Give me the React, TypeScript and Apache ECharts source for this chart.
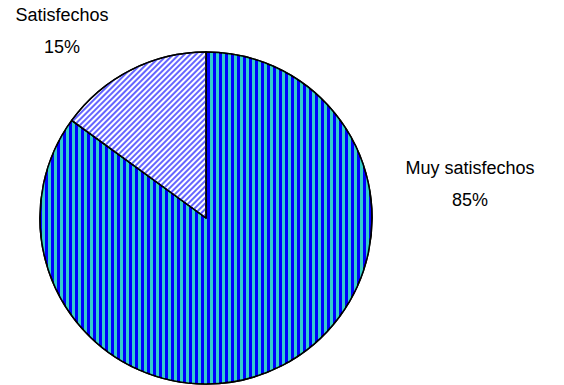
import React, { useEffect, useRef } from "react";
import * as echarts from "echarts";

const categories = ["Muy satisfechos", "Satisfechos"];
const values = [85, 15];
const percentLabels = ["85%", "15%"];

export default function App() {
  const ref = useRef<HTMLDivElement>(null);
  useEffect(() => {
    if (!ref.current) return;
    const chart = echarts.init(ref.current, undefined, { renderer: "svg" });
    const labelPos = [
      { x: 470, y: 184 },
      { x: 62, y: 31 },
    ];
    chart.setOption({
      animation: false,
      backgroundColor: "#ffffff",
      series: [
        {
          type: "pie",
          center: [206, 218],
          radius: 166,
          startAngle: 90,
          clockwise: true,
          data: categories.map((c, i) => ({
            name: c,
            value: values[i],
            itemStyle:
              i === 0
                ? {
                    color: "#0000FF",
                    decal: {
                      symbol: "rect",
                      symbolSize: 1,
                      color: "#33CCCC",
                      dashArrayX: [3, 3],
                      dashArrayY: [4, 0],
                      rotation: 0,
                    },
                  }
                : {
                    color: "#FFFFFF",
                    decal: {
                      symbol: "rect",
                      symbolSize: 1,
                      color: "#6666FF",
                      dashArrayX: [2, 2],
                      dashArrayY: [4, 0],
                      rotation: Math.PI / 4,
                    },
                  },
          })),
          itemStyle: { borderColor: "#000000", borderWidth: 1.5 },
          label: {
            show: true,
            position: "outside",
            overflow: "none",
            formatter: (p: any) => `${p.name}\n${percentLabels[p.dataIndex]}`,
            fontFamily: "Liberation Sans, Arial, sans-serif",
            fontSize: 18,
            lineHeight: 32,
            color: "#000000",
            align: "center",
          },
          labelLine: { show: false },
          labelLayout: (params: any) => ({
            x: labelPos[params.dataIndex].x,
            y: labelPos[params.dataIndex].y,
            align: "center",
            verticalAlign: "middle",
          }),
          emphasis: { disabled: true },
        },
      ],
    });
    return () => chart.dispose();
  }, []);
  return (
    <div
      ref={ref}
      style={{ position: "fixed", left: 0, top: 0, width: 564, height: 385 }}
    />
  );
}
